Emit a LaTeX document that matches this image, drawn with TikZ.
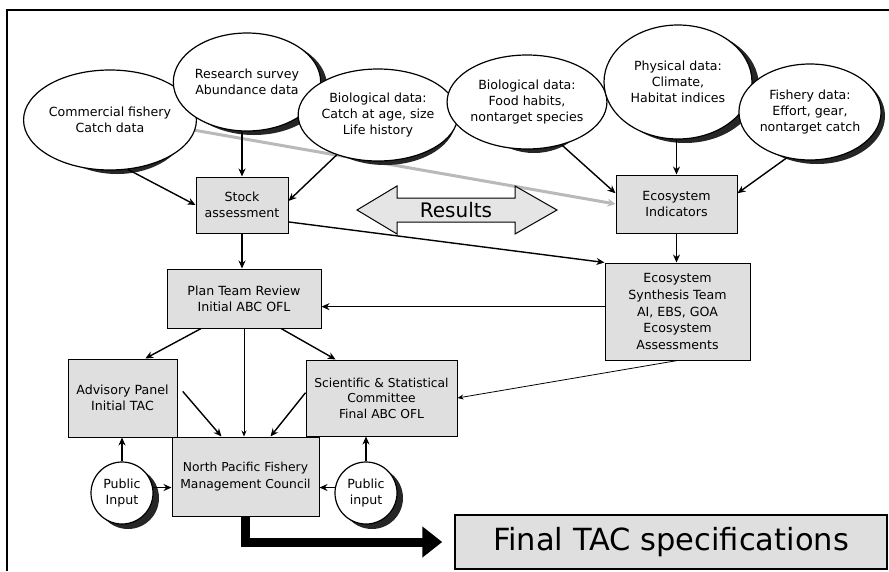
\documentclass[tikz,border=0pt]{standalone}
\usepackage{fontspec}
\setmainfont{DejaVu Sans}
\usetikzlibrary{shapes.geometric,arrows.meta,backgrounds,calc}
\begin{document}
\begin{tikzpicture}[x=1pt,y=-1pt,
  every node/.style={font=\fontsize{12.6}{16}\selectfont, align=center, inner sep=0pt},
  ell/.style={ellipse, draw, line width=1.2pt, fill=white},
  pub/.style={circle, draw, line width=1.2pt, fill=white, minimum size=62pt},
  shade/.style={fill=black!85},
  box/.style={draw, line width=1pt, fill=gray!25},
  arr/.style={line width=1.4pt, -{Stealth[length=8pt,width=7pt]}},
  thin/.style={line width=0.8pt, -{Stealth[length=6pt,width=5pt]}}
]
\useasboundingbox (0,0) rectangle (889,571);
\draw[line width=1.5pt] (7,571) -- (7,10) -- (889,10);

\coordinate (bandA) at (182,128);

% shadows
\fill[shade] (117,124) ellipse (71 and 50);
\fill[shade] (254,86) ellipse (73 and 49);
\fill[shade] (534,106) ellipse (56 and 47);
\fill[shade] (685,86) ellipse (74 and 57);
\fill[shade] (817,116) ellipse (68 and 48);
\fill[shade] (128,498) circle (31);
\fill[shade] (372,498) circle (31);

% ellipses
\node[ell, minimum width=142pt, minimum height=100pt] (cf) at (110,120) {Commercial fishery\\Catch data};
\node[ell, minimum width=146pt, minimum height=98pt] (rs) at (247,82) {Research survey\\Abundance data};
\fill[shade] (385,119) ellipse (71 and 46);
\node[ell, minimum width=142pt, minimum height=92pt] (bio) at (378,115) {Biological data:\\Catch at age, size\\Life history};
\node[ell, minimum width=112pt, minimum height=94pt] (food) at (527,102) {Biological data:\\Food habits,\\nontarget species};
\node[ell, minimum width=148pt, minimum height=114pt] (phys) at (678,82) {Physical data:\\Climate,\\Habitat indices};
\node[ell, minimum width=136pt, minimum height=96pt] (fish) at (810,112) {Fishery data:\\Effort, gear,\\nontarget catch};

% boxes
\node[box, minimum width=92pt, minimum height=56pt] (stock) at (242,205) {Stock\\assessment};
\node[box, minimum width=121pt, minimum height=58pt] (ecoind) at (676.5,204) {Ecosystem\\Indicators};
\node[box, minimum width=154pt, minimum height=59pt] (plan) at (244,298.5) {Plan Team Review\\Initial ABC OFL};
\node[box, minimum width=145pt, minimum height=97pt, font=\fontsize{12.6}{16.6}\selectfont] (synth) at (677.5,311.5) {Ecosystem\\Synthesis Team\\AI, EBS, GOA\\Ecosystem\\Assessments};
\node[box, minimum width=109pt, minimum height=78pt] (adv) at (122.5,398) {Advisory Panel\\Initial TAC};
\node[box, minimum width=151pt, minimum height=76pt, font=\fontsize{12.3}{15.5}\selectfont] (ssc) at (381.5,398) {Scientific \& Statistical\\Committee\\Final ABC OFL};
\node[box, minimum width=147pt, minimum height=79pt, font=\fontsize{12.3}{16.5}\selectfont] (npfmc) at (245.5,476.5) {North Pacific Fishery\\Management Council};
\node[pub] (publ) at (122,493) {Public\\Input};
\node[pub] (pubr) at (366,493) {Public\\input};
\node[box, line width=1.5pt, minimum width=432pt, minimum height=54pt, font=\fontsize{30.5}{34}\selectfont] (final) at (671,542) {Final TAC specifications};

% Results double arrow
\draw[line width=1pt, fill=gray!20] (357,210) -- (397,186) -- (397,198) -- (515,198) -- (515,186) -- (557,210) -- (515,234) -- (515,222) -- (397,222) -- (397,234) -- cycle;
\node[font=\fontsize{20}{22}\selectfont] (results) at (456,210) {Results};

\begin{scope}[on background layer]
\draw[gray!55, line width=3pt, -{Stealth[length=8pt,width=8pt]}] (bandA) -- (ecoind.west);
\end{scope}

% arrows
\draw[arr] (cf.-70) -- (stock.west);
\draw[arr] (stock.north |- rs.south) -- (stock.north);
\draw[arr] (bio.-136) -- (stock.5);
\draw[arr] (food.-51) -- (ecoind.170);
\draw[arr] (ecoind.north |- phys.south) -- (ecoind.north);
\draw[arr] (fish.-117) -- (ecoind.10);
\draw[arr] (stock.south) -- (stock.south |- plan.north);
\draw[arr] (stock.-20) -- (synth.north west);
\draw[arr] (ecoind.south) -- (ecoind.south |- synth.north);
\draw[arr] (synth.west |- plan.-6) -- (plan.-6);
\draw[arr] (plan.-145) -- (adv.60);
\draw[arr] (plan.-39) -- (ssc.140);
\draw[thin] (plan.south) -- (plan.south |- npfmc.north);
\draw[arr, shorten <=8pt] (adv.13) -- (npfmc.121);
\draw[arr] (ssc.176) -- (npfmc.58);
\draw[thin] (synth.south) -- (ssc.east);
\draw[arr] (publ.north) -- (publ.north |- adv.south);
\draw[arr] (publ.10) -- (publ.10 -| npfmc.west);
\draw[arr] (pubr.north) -- (pubr.north |- ssc.south);
\draw[arr] (pubr.170) -- (pubr.170 -| npfmc.east);
\draw[line width=9pt, -{Triangle[length=20pt,width=30pt]}, shorten >=12pt] (npfmc.south) |- (final.west);
\end{tikzpicture}
\end{document}
